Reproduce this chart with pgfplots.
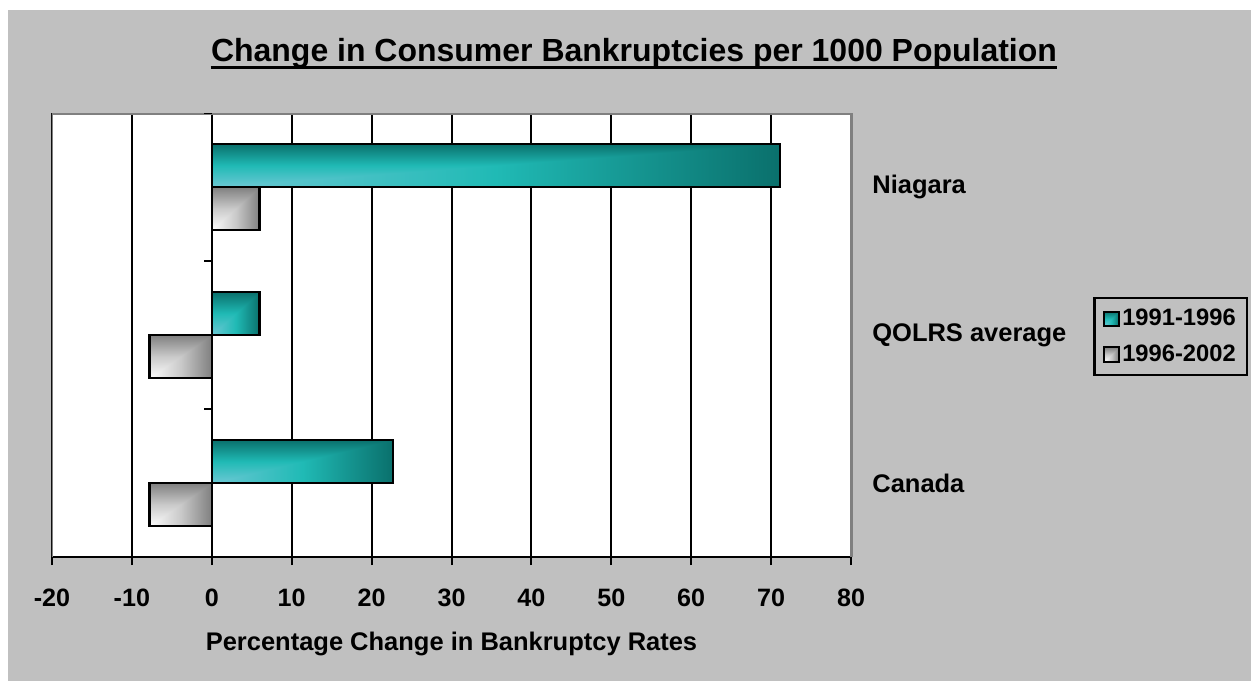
\documentclass[border=0pt]{standalone}
\usepackage{pgfplots}
\pgfplotsset{compat=1.18}
\usepackage{fontspec}
\setmainfont{Liberation Sans}
\definecolor{bg}{HTML}{C0C0C0}
\definecolor{frame}{HTML}{808080}

\pgfdeclarefunctionalshading{tealcorner}{\pgfpoint{-50bp}{-50bp}}{\pgfpoint{50bp}{50bp}}{}{
 25 add 50 div exch 25 add 50 div
 2 copy lt {exch} if pop
 dup 0 lt {pop 0} if dup 1 gt {pop 1} if
 dup 0.5 lt
 { 2 mul dup -0.298 mul 0.4235 add exch dup -0.0549 mul 0.7843 add exch -0.1216 mul 0.8314 add }
 { 2 mul 1 sub dup -0.0863 mul 0.1255 add exch dup -0.2902 mul 0.7294 add exch -0.2863 mul 0.7098 add }
 ifelse
}
\pgfdeclarefunctionalshading{graycorner}{\pgfpoint{-50bp}{-50bp}}{\pgfpoint{50bp}{50bp}}{}{
 25 add 50 div exch 25 add 50 div
 2 copy lt {exch} if pop
 dup 0 lt {pop 0} if dup 1 gt {pop 1} if
 dup 0.5 lt
 { 2 mul -0.2 mul 0.99 add dup dup }
 { 2 mul 1 sub -0.29 mul 0.79 add dup dup }
 ifelse
}

\pgfplotsset{
 tealbar/.style={xbar, bar shift=0.43cm, draw=black, line width=0.05cm, shading=tealcorner},
 graybar/.style={xbar, bar shift=-0.43cm, draw=black, line width=0.05cm, shading=graycorner},
}

\begin{document}
\begin{tikzpicture}
\useasboundingbox (0,0) rectangle (25.02,13.62);
\fill[white] (0,0) rectangle (25.02,13.62);
\fill[bg] (0.16,0) rectangle (25.02,13.42);
\node[anchor=base, inner sep=0pt, font=\fontsize{18.2}{20}\selectfont\bfseries] (t) at (12.68,12.38) {Change in Consumer Bankruptcies per 1000 Population};
\draw[line width=0.06cm] ([yshift=-0.11cm]t.base west) -- ([yshift=-0.11cm]t.base east);
\begin{axis}[
 at={(1.04cm,2.48cm)}, anchor=south west, scale only axis,
 width=15.98cm, height=8.88cm,
 xmin=-20, xmax=80, ymin=-0.5, ymax=2.5,
 xtick={-20,-10,...,80},
 ytick={0,1,2}, yticklabels={Canada,QOLRS average,Niagara},
 axis x line*=bottom, axis y line*=right,
 x axis line style={black, line width=0.04cm, -},
 y axis line style={frame, line width=0.06cm, -},
 xmajorgrids, grid style={black, line width=0.04cm},
 tick align=outside, major tick length=0.16cm,
 xtick style={black, line width=0.04cm},
 ytick style={draw=none},
 axis background/.style={fill=white},
 /pgf/number format/assume math mode=true,
 xticklabel style={font=\fontsize{14.3}{16}\selectfont\bfseries, anchor=north, inner sep=0pt, yshift=-0.48cm},
 yticklabel style={font=\fontsize{14.5}{16}\selectfont\bfseries, anchor=west, inner sep=0pt, xshift=0.26cm},
 xlabel={Percentage Change in Bankruptcy Rates},
 xlabel style={at={(rel axis cs:0.5,0)}, anchor=center, yshift=-1.74cm, font=\fontsize{14.5}{16}\selectfont\bfseries},
 bar width=0.86cm,
 legend style={at={(1.3029,0.5856)}, anchor=north west, draw=black, line width=0.05cm, fill=bg,
   font=\fontsize{13.5}{15}\selectfont\bfseries, inner xsep=0.18cm, inner ysep=0.17cm, row sep=0.23cm,
   nodes={inner sep=0.05cm}, /tikz/every even column/.append style={column sep=0.16cm}},
 legend cell align=left,
 legend image code/.code={\draw[#1, line width=0.04cm] (0cm,-0.145cm) rectangle (0.29cm,0.145cm);},
]
% Niagara
\addplot[tealbar] coordinates {(71.1,2)};
\addplot[graybar] coordinates {(6,2)};
% QOLRS average
\addplot[tealbar, forget plot] coordinates {(6,1)};
\addplot[graybar, forget plot] coordinates {(-7.8,1)};
% Canada
\addplot[tealbar, forget plot] coordinates {(22.7,0)};
\addplot[graybar, forget plot] coordinates {(-7.8,0)};
\legend{1991-1996,1996-2002}
\draw[frame, line width=0.06cm] (rel axis cs:0,1) -- (rel axis cs:1,1);
\draw[frame, line width=0.04cm] (rel axis cs:0,0) -- (rel axis cs:0,1);
\draw[black, line width=0.04cm] (axis cs:0,2.5) -- ([xshift=-0.16cm]axis cs:0,2.5);
\draw[black, line width=0.04cm] (axis cs:0,1.5) -- ([xshift=-0.16cm]axis cs:0,1.5);
\draw[black, line width=0.04cm] (axis cs:0,0.5) -- ([xshift=-0.16cm]axis cs:0,0.5);
\end{axis}
\end{tikzpicture}
\end{document}
